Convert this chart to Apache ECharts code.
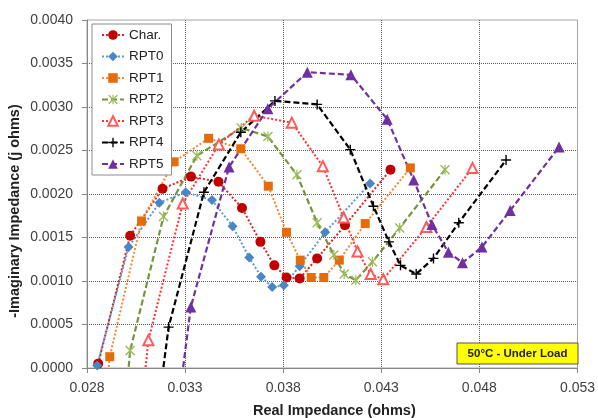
<!DOCTYPE html>
<html>
<head>
<meta charset="utf-8">
<script src="https://cdn.jsdelivr.net/npm/echarts@6/dist/echarts.min.js"></script>
<style>
html,body{margin:0;padding:0;background:#fff;}
#c{width:598px;height:418px;}
</style>
</head>
<body>
<div id="c"></div>
<script>
// ---- data (Real Impedance x, -Imaginary Impedance y) ----
var xTicks = [0.028, 0.033, 0.038, 0.043, 0.048, 0.053];
var yTicks = [0, 0.0005, 0.001, 0.0015, 0.002, 0.0025, 0.003, 0.0035, 0.004];

var charX = [0.02857, 0.0302, 0.03185, 0.0333, 0.0347, 0.0359, 0.03684, 0.03755, 0.03817, 0.03884, 0.03973, 0.04115, 0.04347];
var charY = [0.00005, 0.00152, 0.00206, 0.0022, 0.00214, 0.00184, 0.00145, 0.00118, 0.00104, 0.00103, 0.00126, 0.00164, 0.00228];

var rpt0X = [0.02852, 0.03012, 0.03169, 0.03303, 0.03437, 0.03542, 0.03627, 0.03687, 0.03744, 0.03803, 0.03884, 0.04014, 0.04243];
var rpt0Y = [0.00003, 0.00139, 0.0019, 0.00202, 0.00193, 0.00163, 0.00127, 0.00105, 0.00093, 0.00095, 0.00117, 0.00156, 0.00212];

var rpt1X = [0.02893, 0.02916, 0.03078, 0.03244, 0.0342, 0.03584, 0.03724, 0.03817, 0.03887, 0.03943, 0.04007, 0.04086, 0.04218, 0.04448];
var rpt1Y = [-0.0004, 0.00013, 0.00169, 0.00237, 0.00264, 0.00252, 0.00209, 0.00156, 0.00124, 0.00104, 0.00104, 0.00124, 0.00166, 0.0023];

var rpt2X = [0.02996, 0.0302, 0.0319, 0.0336, 0.03586, 0.03722, 0.0387, 0.03973, 0.04058, 0.04111, 0.0417, 0.04255, 0.04394, 0.04625];
var rpt2Y = [-0.0004, 0.0002, 0.00174, 0.00244, 0.00276, 0.00266, 0.00222, 0.00167, 0.0013, 0.00108, 0.00101, 0.00122, 0.00161, 0.00228];

var rpt3X = [0.03079, 0.03113, 0.03288, 0.03472, 0.03652, 0.03844, 0.04002, 0.04108, 0.04179, 0.04246, 0.0431, 0.0453, 0.04765];
var rpt3Y = [-0.0004, 0.00032, 0.00189, 0.00257, 0.0029, 0.00282, 0.00232, 0.00173, 0.00134, 0.00108, 0.00102, 0.00162, 0.0023];

var rpt4X = [0.03166, 0.03216, 0.03396, 0.03584, 0.03758, 0.03973, 0.04142, 0.0426, 0.04339, 0.04398, 0.04478, 0.04566, 0.04695, 0.04936];
var rpt4Y = [-0.0004, 0.00047, 0.00202, 0.00271, 0.00307, 0.00303, 0.00251, 0.00186, 0.00145, 0.00118, 0.00108, 0.00126, 0.00167, 0.00239];

var rpt5X = [0.03267, 0.03329, 0.03524, 0.03722, 0.03923, 0.04145, 0.0433, 0.04465, 0.04558, 0.04642, 0.04714, 0.04813, 0.04957, 0.05206];
var rpt5Y = [-0.0004, 0.0007, 0.00231, 0.00298, 0.0034, 0.00337, 0.00286, 0.00216, 0.00165, 0.00133, 0.00121, 0.00139, 0.00181, 0.00254];

var seriesNames = ['Char.', 'RPT0', 'RPT1', 'RPT2', 'RPT3', 'RPT4', 'RPT5'];

function pairs(xs, ys) { return xs.map(function (x, i) { return [x, ys[i]]; }); }

var plusPath = 'path://M-0.7,-5 L0.7,-5 L0.7,-0.7 L5,-0.7 L5,0.7 L0.7,0.7 L0.7,5 L-0.7,5 L-0.7,0.7 L-5,0.7 L-5,-0.7 L-0.7,-0.7 Z';
var starPath = 'path://M-5,-4 L-4,-5 L5,4 L4,5 Z M4,-5 L5,-4 L-4,5 L-5,4 Z M-0.6,-5 L0.6,-5 L0.6,5 L-0.6,5 Z';

function mk(name, xs, ys, opt) {
  return {
    name: name,
    type: 'line',
    data: pairs(xs, ys),
    clip: true,
    symbol: opt.symbol,
    symbolSize: opt.size,
    showAllSymbol: true,
    lineStyle: { color: opt.line, width: opt.width || 2, type: opt.dash },
    itemStyle: opt.item,
    emphasis: { disabled: true },
    animation: false
  };
}

var dotted = [2, 2];
var dashed = [6, 3];

var chart = echarts.init(document.getElementById('c'), null, { renderer: 'canvas' });
chart.setOption({
  animation: false,
  backgroundColor: '#fff',
  grid: { left: 87, top: 20, right: 16, bottom: 50, show: true, borderColor: '#a6a6a6', borderWidth: 1, backgroundColor: 'transparent' },
  xAxis: {
    type: 'value', min: xTicks[0], max: xTicks[xTicks.length - 1], interval: 0.005,
    axisLine: { show: true, onZero: false, lineStyle: { color: '#868686' } },
    axisTick: { show: true, inside: false, length: 5, lineStyle: { color: '#868686' } },
    axisLabel: { color: '#404040', fontSize: 14, fontFamily: 'Liberation Sans, Arial', margin: 13,
      formatter: function (v) { return v.toFixed(3); } },
    splitLine: { show: true, showMinLine: false, showMaxLine: false, lineStyle: { color: '#5a5a5a', type: [1, 1], width: 1 } }
  },
  yAxis: {
    type: 'value', min: yTicks[0], max: yTicks[yTicks.length - 1], interval: 0.0005,
    axisLine: { show: true, lineStyle: { color: '#868686' } },
    axisTick: { show: true, inside: false, length: 5, lineStyle: { color: '#868686' } },
    axisLabel: { color: '#404040', fontSize: 14, fontFamily: 'Liberation Sans, Arial', margin: 14,
      formatter: function (v) { return v.toFixed(4); } },
    splitLine: { show: true, showMinLine: false, showMaxLine: false, lineStyle: { color: '#5a5a5a', type: [1, 1], width: 1 } }
  },
  legend: {
    orient: 'vertical', left: 92, top: 24,
    data: seriesNames,
    backgroundColor: '#fff', borderColor: '#8c8c8c', borderWidth: 1,
    padding: [4, 8, 4, 9],
    itemWidth: 22, itemHeight: 12, itemGap: 7.5,
    textStyle: { fontSize: 13.5, color: '#222', fontFamily: 'Liberation Sans, Arial' },
    selectedMode: false
  },
  graphic: [
    { type: 'text', left: 253, top: 403, style: { text: 'Real Impedance (ohms)', font: 'bold 14.5px "Liberation Sans", Arial', fill: '#222' } },
    { type: 'text', x: 15, y: 211, rotation: Math.PI / 2, style: { text: '-Imaginary Impedance (j ohms)', font: 'bold 14.5px "Liberation Sans", Arial', fill: '#222', align: 'center', verticalAlign: 'middle' } },
    { type: 'rect', shape: { x: 457, y: 343, width: 121, height: 21 }, style: { fill: '#ffff00', stroke: '#555', lineWidth: 1 }, z: 100 },
    { type: 'text', x: 517.5, y: 353.5, z: 101, style: { text: '50°C - Under Load', font: 'bold 11.5px "Liberation Sans", Arial', fill: '#222', align: 'center', verticalAlign: 'middle' } }
  ],
  series: [
    mk('Char.', charX, charY, { symbol: 'circle', size: 10, line: '#dd2222', dash: dotted, item: { color: '#c00000' } }),
    mk('RPT0', rpt0X, rpt0Y, { symbol: 'diamond', size: 10, line: '#5b9bd5', dash: dotted, item: { color: '#4a86c5' } }),
    mk('RPT1', rpt1X, rpt1Y, { symbol: 'rect', size: 9, line: '#f28a33', dash: dotted, item: { color: '#e46c0a' } }),
    mk('RPT2', rpt2X, rpt2Y, { symbol: starPath, size: 10, line: '#77933c', dash: dashed, width: 2.2, item: { color: '#9bbb59' } }),
    mk('RPT3', rpt3X, rpt3Y, { symbol: 'emptyTriangle', size: 10, line: '#ff3333', dash: dotted, item: { color: '#ff5a5a', borderWidth: 1.2 } }),
    mk('RPT4', rpt4X, rpt4Y, { symbol: plusPath, size: 10, line: '#000000', dash: dashed, width: 2.2, item: { color: '#000000' } }),
    mk('RPT5', rpt5X, rpt5Y, { symbol: 'triangle', size: 11, line: '#7030a0', dash: dashed, width: 2.2, item: { color: '#7030a0' } })
  ]
});
</script>
</body>
</html>
